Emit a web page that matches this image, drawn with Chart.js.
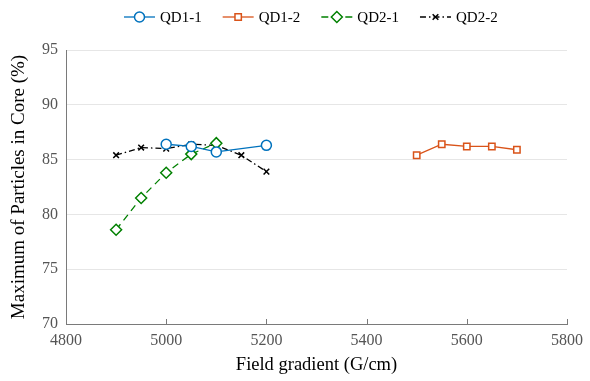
<!DOCTYPE html>
<html>
<head>
<meta charset="utf-8">
<script src="https://cdn.jsdelivr.net/npm/chart.js@4/dist/chart.umd.min.js"></script>
<style>
  html, body { margin: 0; padding: 0; background: #fff; }
  #wrap { width: 590px; height: 381px; }
</style>
</head>
<body>
<div id="wrap"><canvas id="myChart" width="590" height="381"></canvas></div>
<script>
// field gradient (G/cm) and max particles in core (%)
const qd11X = [5000, 5050, 5100, 5200]
const qd11Y = [86.4, 86.2, 85.7, 86.3]
const qd12X = [5500, 5550, 5600, 5650, 5700]
const qd12Y = [85.4, 86.4, 86.2, 86.2, 85.9]
const qd21X = [4900, 4950, 5000, 5050, 5100]
const qd21Y = [78.6, 81.5, 83.8, 85.5, 86.5]
const qd22X = [4900, 4950, 5000, 5050, 5100, 5150, 5200]
const qd22Y = [85.4, 86.1, 86.0, 86.4, 86.3, 85.4, 83.9]

const xTicks = [4800, 5000, 5200, 5400, 5600, 5800]
const yTicks = [70, 75, 80, 85, 90, 95]

function pts(xs, ys) {
    return xs.map(function(x, i) { return {x: x, y: ys[i]} })
}

const serif = "'Liberation Serif', 'Times New Roman', serif"

// legend drawn as line + marker
const lineLegend = {
    id: 'lineLegend',
    afterDraw(chart) {
        const ctx = chart.ctx
        ctx.save()
        ctx.font = '15px ' + serif
        ctx.textBaseline = 'middle'
        let x = 124
        const y = 17
        chart.data.datasets.forEach(function(ds) {
            ctx.strokeStyle = ds.borderColor
            ctx.lineWidth = ds.borderWidth
            ctx.setLineDash(ds.borderDash || [])
            ctx.beginPath()
            ctx.moveTo(x, y)
            ctx.lineTo(x + 31, y)
            ctx.stroke()
            ctx.setLineDash([])
            ctx.fillStyle = ds.pointBackgroundColor
            ctx.strokeStyle = ds.pointBorderColor
            ctx.lineWidth = ds.pointBorderWidth
            Chart.helpers.drawPoint(ctx, {
                pointStyle: ds.pointStyle,
                radius: ds.pointRadius,
                borderWidth: ds.pointBorderWidth
            }, x + 15.5, y)
            ctx.fillStyle = '#000'
            ctx.fillText(ds.label, x + 36, y + 1)
            x += 36 + ctx.measureText(ds.label).width + 21
        })
        ctx.restore()
    }
}

// small inward tick marks on the x axis
const innerTicks = {
    id: 'innerTicks',
    afterDraw(chart) {
        const ctx = chart.ctx
        const xs = chart.scales.x, ys = chart.scales.y
        ctx.save()
        ctx.strokeStyle = '#7a7a7a'
        ctx.lineWidth = 1
        ctx.beginPath()
        xTicks.forEach(function(v) {
            const px = Math.round(xs.getPixelForValue(v)) + 0.5
            ctx.moveTo(px, ys.bottom)
            ctx.lineTo(px, ys.bottom - 5)
        })
        ctx.stroke()
        ctx.restore()
    }
}

const ctx = document.getElementById('myChart').getContext('2d')
const myChart = new Chart(ctx, {
    type: 'line',
    data: {
        datasets: [{
            label: 'QD1-1',
            data: pts(qd11X, qd11Y),
            borderColor: '#0072BD',
            borderWidth: 1.3,
            pointStyle: 'circle',
            pointRadius: 5,
            pointBorderWidth: 1.5,
            pointBackgroundColor: '#fff',
            pointBorderColor: '#0072BD'
        }, {
            label: 'QD1-2',
            data: pts(qd12X, qd12Y),
            borderColor: '#D95319',
            borderWidth: 1.3,
            pointStyle: 'rect',
            pointRadius: 4.5,
            pointBorderWidth: 1.5,
            pointBackgroundColor: '#fff',
            pointBorderColor: '#D95319'
        }, {
            label: 'QD2-1',
            data: pts(qd21X, qd21Y),
            borderColor: '#008000',
            borderWidth: 1.3,
            borderDash: [7, 5],
            pointStyle: 'rectRot',
            pointRadius: 5.5,
            pointBorderWidth: 1.5,
            pointBackgroundColor: '#fff',
            pointBorderColor: '#008000'
        }, {
            label: 'QD2-2',
            data: pts(qd22X, qd22Y),
            borderColor: '#000',
            borderWidth: 1.3,
            borderDash: [6, 3, 1.5, 3],
            pointStyle: 'crossRot',
            pointRadius: 4,
            pointBorderWidth: 1.5,
            pointBackgroundColor: '#fff',
            pointBorderColor: '#000'
        }]
    },
    options: {
        responsive: false,
        animation: false,
        elements: { line: { tension: 0 } },
        layout: { padding: { top: 50, right: 20, left: 0, bottom: 0 } },
        plugins: {
            legend: { display: false },
            tooltip: { enabled: false }
        },
        scales: {
            x: {
                type: 'linear',
                min: 4800,
                max: 5800,
                afterFit: function(s) { s.height = 57 },
                afterBuildTicks: function(s) { s.ticks = xTicks.map(function(v) { return {value: v} }) },
                grid: { display: false, drawTicks: false },
                border: { display: true, color: '#7a7a7a', width: 1 },
                ticks: {
                    color: '#555',
                    padding: 7,
                    font: { family: serif, size: 16 },
                    callback: function(v) { return String(v) }
                },
                title: {
                    display: true,
                    text: 'Field gradient (G/cm)',
                    color: '#000',
                    font: { family: serif, size: 18.5 },
                    padding: { top: 0, bottom: 5 }
                }
            },
            y: {
                min: 70,
                max: 95,
                afterFit: function(s) { s.width = 66 },
                afterBuildTicks: function(s) { s.ticks = yTicks.map(function(v) { return {value: v} }) },
                grid: { color: '#e6e6e6', drawTicks: false },
                border: { display: true, color: '#7a7a7a', width: 1 },
                ticks: {
                    color: '#555',
                    padding: 8,
                    font: { family: serif, size: 16 },
                    callback: function(v) { return String(v) }
                },
                title: {
                    display: true,
                    text: 'Maximum of Particles in Core (%)',
                    color: '#000',
                    font: { family: serif, size: 19 },
                    padding: { top: 8, bottom: 0 }
                }
            }
        }
    },
    plugins: [lineLegend, innerTicks]
})
</script>
</body>
</html>
